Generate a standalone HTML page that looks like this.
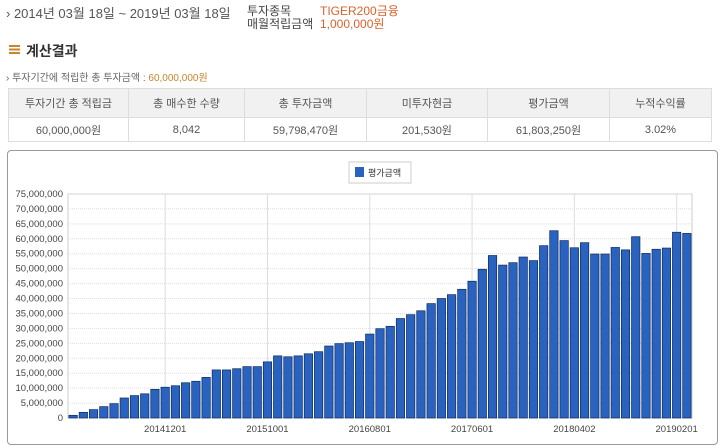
<!DOCTYPE html>
<html><head><meta charset="utf-8"><style>
body{margin:0;width:720px;height:446px;background:#fff;font-family:"Liberation Sans","Noto Sans CJK KR",sans-serif;overflow:hidden;position:relative;color:#444}
.a{position:absolute;white-space:nowrap}
table{position:absolute;left:8px;top:88px;width:704px;border-collapse:collapse;font-size:11px;color:#555}
td{border:1px solid #ddd;text-align:center;padding:0}
tr.h td{background:#f1f1f1;height:28px}
tr.d td{height:23px}
</style></head><body>
<div class="a" style="left:6px;top:3px;font-size:13px;color:#555">› 2014년 03월 18일 ~ 2019년 03월 18일</div>
<div class="a" style="left:247px;top:2px;font-size:12px;color:#444">투자종목</div>
<div class="a" style="left:320px;top:2px;font-size:12px;color:#d9622b">TIGER200금융</div>
<div class="a" style="left:247px;top:15px;font-size:12px;color:#444">매월적립금액</div>
<div class="a" style="left:320px;top:15px;font-size:12px;color:#d9622b">1,000,000원</div>
<div class="a" style="left:9px;top:45px;width:11px;height:9px;background:repeating-linear-gradient(#c8862a 0 2px,#fff 2px 3.5px)"></div>
<div class="a" style="left:26px;top:41px;font-size:14px;font-weight:bold;color:#333">계산결과</div>
<div class="a" style="left:6px;top:69px;font-size:10px;color:#666">› 투자기간에 적립한 총 투자금액 : <span style="color:#c8862a">60,000,000원</span></div>
<table>
<tr class="h"><td style="width:119px">투자기간 총 적립금</td><td style="width:115px">총 매수한 수량</td><td style="width:121px">총 투자금액</td><td style="width:120px">미투자현금</td><td style="width:121px">평가금액</td><td>누적수익률</td></tr>
<tr class="d"><td>60,000,000원</td><td>8,042</td><td>59,798,470원</td><td>201,530원</td><td>61,803,250원</td><td>3.02%</td></tr>
</table>
<div class="a" style="left:7px;top:150px;width:709px;height:293px;border:1px solid #999;border-radius:4px"></div>
<svg class="a" style="left:0;top:0" width="720" height="446" id="chart"></svg>
<script>
const values=[0.9,1.9,2.8,3.8,4.8,6.7,7.5,8.1,9.6,10.3,10.8,11.8,12.3,13.6,16.1,16.1,16.5,17.2,17.2,18.8,20.8,20.5,20.8,21.5,22.2,24.1,24.9,25.2,25.6,28.1,29.9,30.7,33.3,34.6,35.9,38.3,40.0,41.3,43.1,45.8,49.8,54.4,51.2,52.0,53.9,52.7,57.7,62.7,59.4,57.0,58.7,54.9,54.9,57.1,56.3,60.7,55.1,56.5,56.9,62.2,61.8];
const yTicks=[0,5,10,15,20,25,30,35,40,45,50,55,60,65,70,75];
const xLabelIdx=[9,19,29,39,49,59];
const xLabels=["20141201","20151001","20160801","20170601","20180402","20190201"];
const svg=document.getElementById('chart');const NS='http://www.w3.org/2000/svg';
const X0=68,X1=692,Y0=418,YT=194,slot=(X1-X0)/values.length;
const y=v=>Y0-(v/75)*(Y0-YT);const xc=i=>X0+(i+0.5)*slot;
function mk(t,a){const e=document.createElementNS(NS,t);for(const k in a)e.setAttribute(k,a[k]);svg.appendChild(e);return e;}
let r=mk('rect',{x:X0,y:YT,width:X1-X0,height:Y0-YT,fill:'none',stroke:'#ccc'});


yTicks.forEach(t=>{
 let l=mk('line',{x1:X0,x2:X1,y1:y(t),y2:y(t),stroke:'#ddd','stroke-dasharray':'1,1'});
 
 
 let tx=mk('text',{x:X0-5,y:y(t)+3,'text-anchor':'end','font-size':'9.5',fill:'#444'});
 tx.textContent=(t*1e6).toLocaleString('en-US');
 
 
});
xLabelIdx.forEach((i,k)=>{
 let l=mk('line',{x1:xc(i),x2:xc(i),y1:YT,y2:Y0,stroke:'#ddd'});
 
 
 let tx=mk('text',{x:xc(i),y:Y0+14,'text-anchor':'middle','font-size':'9.5',fill:'#444'});
 tx.textContent=xLabels[k];
 
 
});
values.forEach((v,i)=>{
 let b=mk('rect',{x:xc(i)-4.2,y:y(v),width:8.4,height:Y0-y(v),fill:'#2a63bf',stroke:'#0d2a5c','stroke-width':'0.7'});
 
 
});
let lg=mk('rect',{x:349,y:162,width:62,height:21,fill:'#fff',stroke:'#ccc'});


let ls=mk('rect',{x:355,y:167,width:9,height:10,fill:'#2a63bf'});


let lt=mk('text',{x:368,y:176,'font-size':'9',fill:'#333'});lt.textContent='평가금액';


</script>
</body></html>
